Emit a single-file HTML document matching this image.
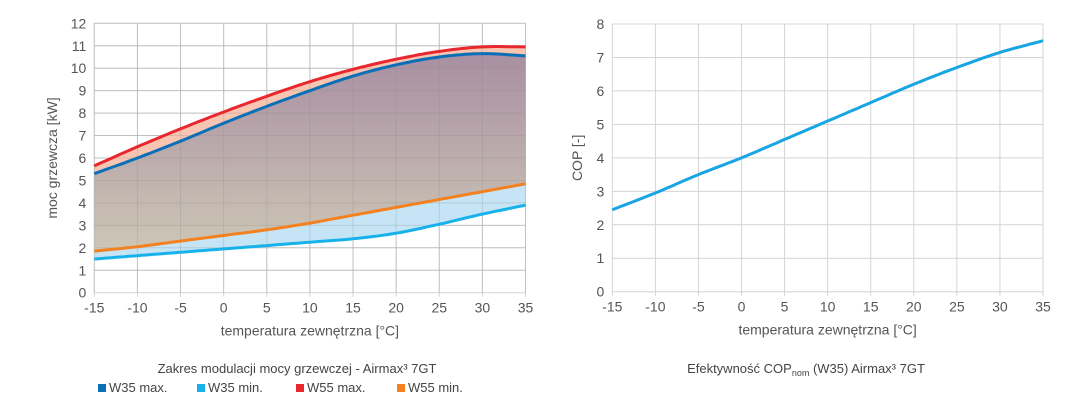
<!DOCTYPE html>
<html><head><meta charset="utf-8">
<style>
html,body{margin:0;padding:0;background:#fff;}
svg{display:block;font-family:"Liberation Sans",sans-serif;}
</style></head>
<body>
<svg id="s" width="1086" height="409" xmlns="http://www.w3.org/2000/svg">
<defs>
<linearGradient id="g" x1="0" y1="0" x2="0" y2="1">
<stop offset="0" stop-color="#a98fa2"/><stop offset="1" stop-color="#cdc7b6"/>
</linearGradient>
</defs>
<g id="L"></g>
<g id="R"></g>
<text x="297" y="373" font-size="13" fill="#444" text-anchor="middle">Zakres modulacji mocy grzewczej - Airmax³ 7GT</text>
<g font-size="13" fill="#444">
<rect x="98" y="384" width="8" height="8" fill="#0b6fb8"/><text x="109" y="392">W35 max.</text>
<rect x="197" y="384" width="8" height="8" fill="#17b2ea"/><text x="208" y="392">W35 min.</text>
<rect x="296" y="384" width="8" height="8" fill="#e8272f"/><text x="307" y="392">W55 max.</text>
<rect x="397" y="384" width="8" height="8" fill="#f48120"/><text x="408" y="392">W55 min.</text>
</g>
<text x="806" y="373" font-size="13" fill="#444" text-anchor="middle">Efektywność COP<tspan font-size="9" dy="3">nom</tspan><tspan dy="-3"> (W35) Airmax³ 7GT</tspan></text>
</svg>
<script>
var NS="http://www.w3.org/2000/svg";
function el(p,t,a,txt){var e=document.createElementNS(NS,t);for(var k in a)e.setAttribute(k,a[k]);if(txt!==undefined)e.textContent=txt;p.appendChild(e);return e;}
var xs=[-15,-10,-5,0,5,10,15,20,25,30,35];
function interp(v){
 var n=v.length,pts=[];
 function g(i){if(i<0)return 2*v[0]-v[1];if(i>=n)return 2*v[n-1]-v[n-2];return v[i];}
 for(var i=0;i<n-1;i++){var p0=g(i-1),p1=v[i],p2=v[i+1],p3=g(i+2);
 for(var t=0;t<1;t+=0.1){var t2=t*t,t3=t2*t;pts.push([xs[i]+5*t,0.5*(2*p1+(-p0+p2)*t+(2*p0-5*p1+4*p2-p3)*t2+(-p0+3*p1-3*p2+p3)*t3)]);}}
 pts.push([35,v[n-1]]);return pts;}
function chart(g,x0,x1,y0,yTop,ymax,data,ylabel,fills,axisX,ylx){
 var sx=function(x){return x0+(x+15)/50*(x1-x0);},sy=function(y){return y0-y/ymax*(y0-yTop);};
 function path(p){return p.map(function(q,i){return (i?"L":"M")+sx(q[0]).toFixed(1)+","+sy(q[1]).toFixed(1);}).join("");}
 for(var y=0;y<=ymax;y++){el(g,"line",{x1:x0,x2:x1,y1:sy(y),y2:sy(y),stroke:"#d4d4d4","stroke-width":1});
  el(g,"text",{x:x0-8,y:sy(y)+5,"font-size":14,fill:"#555","text-anchor":"end"},y);}
 xs.forEach(function(x){el(g,"line",{x1:sx(x),x2:sx(x),y1:yTop,y2:y0+4,stroke:"#d4d4d4","stroke-width":1});
  el(g,"text",{x:sx(x),y:y0+20,"font-size":14,fill:"#555","text-anchor":"middle"},x);});
 fills.forEach(function(f){var a=interp(f[0]),b=interp(f[1]).reverse();el(g,"path",{d:path(a)+path(b).replace("M","L")+"Z",fill:f[2]});});
 if(fills.length){
  for(var y=1;y<=ymax;y++)el(g,"line",{x1:x0,x2:x1,y1:sy(y),y2:sy(y),stroke:"#888","stroke-width":1,"stroke-opacity":0.25});
  xs.forEach(function(x){el(g,"line",{x1:sx(x),x2:sx(x),y1:yTop,y2:y0,stroke:"#888","stroke-width":1,"stroke-opacity":0.25});});}
 data.forEach(function(d){el(g,"path",{d:path(interp(d[0])),fill:"none",stroke:d[1],"stroke-width":3,"stroke-linejoin":"round"});});
 el(g,"text",{x:(x0+x1)/2,y:y0+43,"font-size":14,fill:"#555","text-anchor":"middle"},axisX);
 el(g,"text",{transform:"translate("+ylx+","+((y0+yTop)/2)+") rotate(-90)","font-size":14,fill:"#555","text-anchor":"middle"},ylabel);
}
var w55x=[5.65,6.5,7.3,8.05,8.75,9.4,9.95,10.4,10.75,10.95,10.95];
var w35x=[5.3,6.0,6.75,7.55,8.3,9.0,9.65,10.15,10.5,10.65,10.55];
var w55n=[1.85,2.05,2.3,2.55,2.8,3.1,3.45,3.8,4.15,4.5,4.85];
var w35n=[1.5,1.65,1.8,1.95,2.1,2.25,2.4,2.65,3.05,3.5,3.9];
var cop=[2.45,2.95,3.5,4.0,4.55,5.1,5.65,6.2,6.7,7.15,7.5];
chart(document.getElementById("L"),94.3,525.5,292.7,23.3,12,
 [[w35n,"#17b2ea"],[w55n,"#f48120"],[w55x,"#e8272f"],[w35x,"#0b6fb8"]],
 "moc grzewcza [kW]",[[w55x,w35x,"#f7c5b1"],[w35x,w55n,"url(#g)"],[w55n,w35n,"#c5e4f5"]],"temperatura zewnętrzna [°C]",57);
chart(document.getElementById("R"),612.3,1043,291.7,24,8,[[cop,"#17a5e3"]],"COP [-]",[],"temperatura zewnętrzna [°C]",582);
</script>
</body></html>
